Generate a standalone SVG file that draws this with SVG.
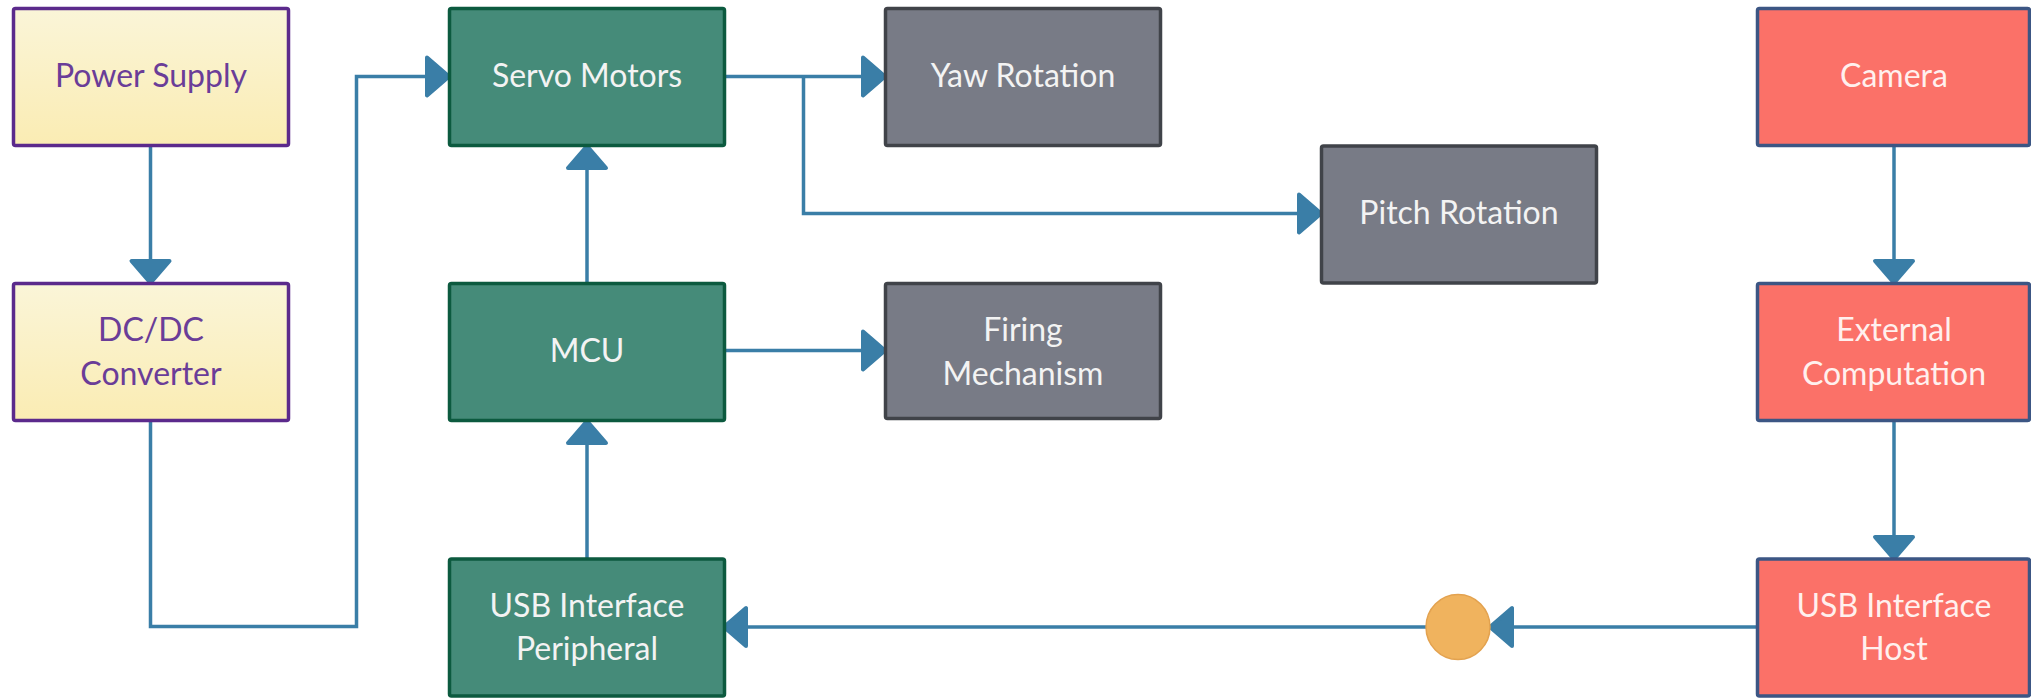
<svg xmlns="http://www.w3.org/2000/svg" width="2031" height="698" viewBox="0 0 2031 698">
<style>
.box{stroke-width:3.5}
.yel{fill:url(#gy);stroke:#5b2a8c}
.grn{fill:#458b79;stroke:#0c5a3f}
.gry{fill:#787b86;stroke:#404349}
.red{fill:#fb7168;stroke:#3c5684}
text{font-family:Lato,"Open Sans","Liberation Sans",sans-serif;font-size:32px;text-anchor:middle}
.ty{fill:#6a3d98}
.tw{fill:#f3f3f3}
.tr{fill:#fff0ee}
.con{fill:none;stroke:#3a7ea7;stroke-width:3.5;marker-end:url(#ah)}
</style>
<defs>
<linearGradient id="gy" x1="0" y1="0" x2="0" y2="1">
<stop offset="0" stop-color="#faf5d8"/>
<stop offset="1" stop-color="#faecb3"/>
</linearGradient>
<marker id="ah" markerUnits="userSpaceOnUse" markerWidth="34" markerHeight="48" refX="26" refY="24" orient="auto" viewBox="0 0 34 48">
<path d="M4,5 L26,24 L4,43 Z" fill="#3a7ea7" stroke="#3a7ea7" stroke-width="4" stroke-linejoin="round"/>
</marker>
</defs>
<g id="connectors">
<path class="con" d="M150.5,146 V283"/>
<path class="con" d="M150.5,421 V626.5 H356.5 V76.5 H449"/>
<path class="con" d="M725,76.5 H885"/>
<path class="con" d="M803.5,76.5 V213.5 H1321"/>
<path class="con" d="M587,283 V146"/>
<path class="con" d="M725,350.5 H885"/>
<path class="con" d="M587,559 V421"/>
<path class="con" d="M1894,146 V283"/>
<path class="con" d="M1894,421 V559"/>
<path class="con" d="M1758,627 H1490"/>
<path class="con" d="M1426,627 H724"/>
</g>
<g id="power-supply">
<rect class="box yel" x="13.5" y="8.5" width="275" height="137" rx="2"/>
<text class="ty" x="151" y="86.5">Power Supply</text>
</g>
<g id="dcdc-converter">
<rect class="box yel" x="13.5" y="283.5" width="275" height="137" rx="2"/>
<text class="ty" x="151" y="341">DC/DC</text>
<text class="ty" x="151" y="384.5">Converter</text>
</g>
<g id="servo-motors">
<rect class="box grn" x="449.5" y="8.5" width="275" height="137" rx="2"/>
<text class="tw" x="587" y="86.5">Servo Motors</text>
</g>
<g id="mcu">
<rect class="box grn" x="449.5" y="283.5" width="275" height="137" rx="2"/>
<text class="tw" x="587" y="362">MCU</text>
</g>
<g id="usb-peripheral">
<rect class="box grn" x="449.5" y="559" width="275" height="137" rx="2"/>
<text class="tw" x="587" y="616.5">USB Interface</text>
<text class="tw" x="587" y="660">Peripheral</text>
</g>
<g id="yaw-rotation">
<rect class="box gry" x="885.5" y="8.5" width="275" height="137" rx="2"/>
<text class="tw" x="1023" y="86.5">Yaw Rotation</text>
</g>
<g id="pitch-rotation">
<rect class="box gry" x="1321.5" y="146" width="275" height="137" rx="2"/>
<text class="tw" x="1459" y="224">Pitch Rotation</text>
</g>
<g id="firing-mechanism">
<rect class="box gry" x="885.5" y="283.5" width="275" height="135" rx="2"/>
<text class="tw" x="1023" y="341">Firing</text>
<text class="tw" x="1023" y="384.5">Mechanism</text>
</g>
<g id="camera">
<rect class="box red" x="1757.5" y="8.5" width="272" height="137" rx="2"/>
<text class="tr" x="1894" y="86.5">Camera</text>
</g>
<g id="external-computation">
<rect class="box red" x="1757.5" y="283.5" width="272" height="137" rx="2"/>
<text class="tr" x="1894" y="341">External</text>
<text class="tr" x="1894" y="384.5">Computation</text>
</g>
<g id="usb-host">
<rect class="box red" x="1757.5" y="559" width="272" height="137" rx="2"/>
<text class="tr" x="1894" y="616.5">USB Interface</text>
<text class="tr" x="1894" y="660">Host</text>
</g>
<g id="junction">
<ellipse cx="1458" cy="627" rx="32" ry="32.5" fill="#f0b35e" stroke="#e3a24f" stroke-width="1.5"/>
</g>
</svg>
